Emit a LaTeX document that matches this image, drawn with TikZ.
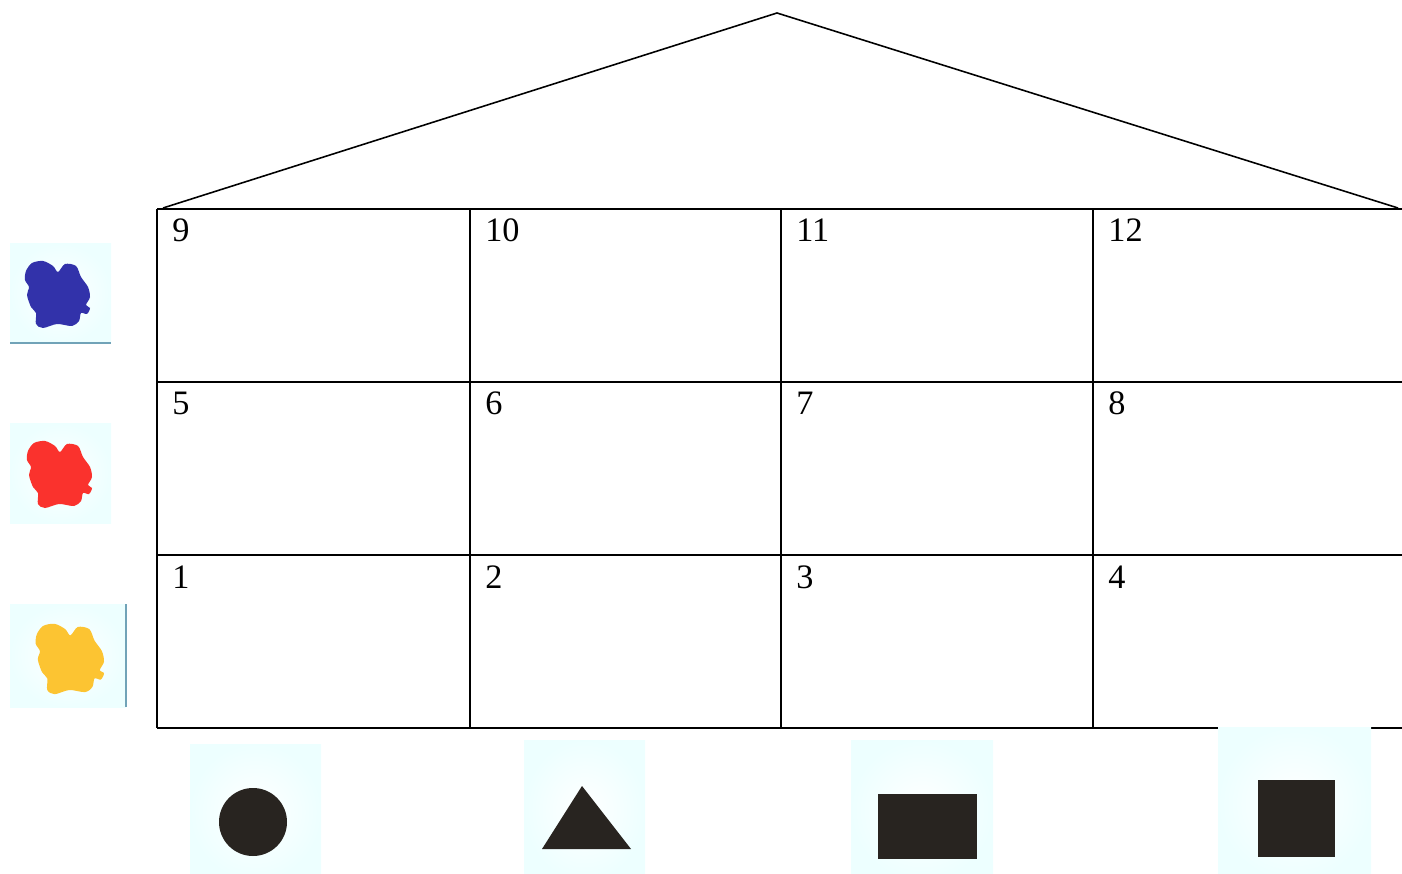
\documentclass[tikz,border=0pt]{standalone}
\usepackage{fontspec}
\setmainfont{Liberation Serif}
\usetikzlibrary{positioning}

\definecolor{blobblue}{RGB}{50,50,170}
\definecolor{blobred}{RGB}{250,50,45}
\definecolor{blobyellow}{RGB}{252,196,50}
\definecolor{figdark}{RGB}{40,36,32}

\newcommand{\blobpath}{plot[smooth cycle] coordinates {(16,27) (22,19) (33,17) (43,22) (48,28) (55,20) (66,22) (71,33) (78,43) (80,53) (76,61) (80,64) (77,70) (71,69) (69,77) (62,82) (47,80) (33,84) (26,80) (26,69) (21,63) (17,51) (19,43) (15,36)}}

\begin{document}
\begin{tikzpicture}[x=0.02cm, y=-0.02cm,
    tile/.style={inner color=white, outer color=cyan!7},
    num/.style={anchor=base west, inner sep=0pt, font=\fontsize{19.5}{21}\selectfont},
    gridline/.style={line width=1.3pt},
    figure/.style={fill=figdark}
  ]
  \clip (0,0) rectangle (1402,874);

  % roof
  \draw[line width=0.9pt] (163,208) -- (777,13) -- (1398,208);

  % table
  \foreach \y in {209,382,555,728}
    \draw[gridline] (157,\y) -- (1420,\y);
  \foreach \x in {157,470,781,1093}
    \draw[gridline] (\x,209) -- (\x,728);

  % cell numbers
  \foreach \n [count=\i from 0] in {9,10,11,12,5,6,7,8,1,2,3,4} {
    \pgfmathsetmacro{\cx}{{157,470,781,1093}[mod(\i,4)]+15}
    \pgfmathsetmacro{\cy}{{209,382,555}[int(\i/4)]+33}
    \node[num] (n\n) at (\cx,\cy) {\n};
  }

  % colour cards
  \shade[tile] (10,244) rectangle (111,343);
  \fill[blobblue] [shift={(10,244)}] \blobpath;
  \shade[tile] (10,424) rectangle (111,523);
  \fill[blobred] [shift={(12,424)}] \blobpath;
  \shade[tile] (10,604) rectangle (126,707);
  \fill[blobyellow] [shift={(20,606)}, scale=1.05] \blobpath;
  \draw[cyan!40!gray, line width=0.6pt] (10,343) -- (111,343);
  \draw[cyan!40!gray, line width=0.6pt] (126,604) -- (126,707);

  % shape cards
  \shade[tile] (190,744) rectangle (321,880);
  \fill[figure] (253,822) circle (34);
  \shade[tile] (524,740) rectangle (645,880);
  \fill[figure] (542,849) -- (582,786) -- (631,849) -- cycle;
  \shade[tile] (851,740) rectangle (993,880);
  \fill[figure] (878,794) rectangle (977,859);
  \shade[tile] (1218,727) rectangle (1371,880);
  \fill[figure] (1258,780) rectangle (1335,857);
\end{tikzpicture}
\end{document}
